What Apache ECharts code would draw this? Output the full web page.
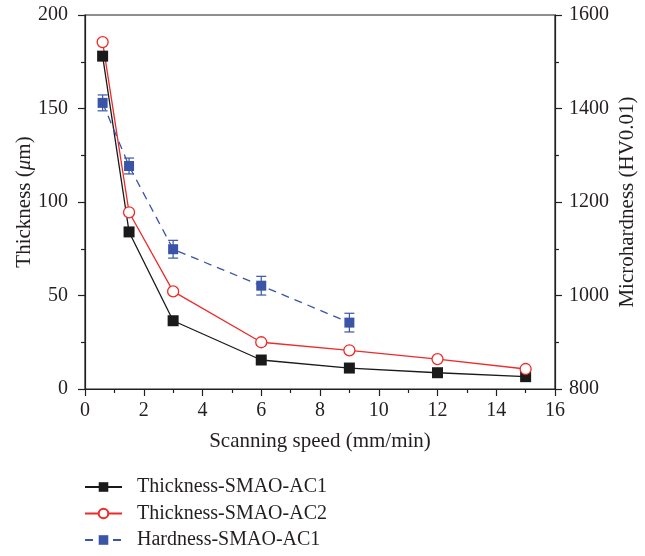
<!DOCTYPE html>
<html>
<head>
<meta charset="utf-8">
<script src="https://cdn.jsdelivr.net/npm/echarts@6/dist/echarts.min.js"></script>
<style>
  html, body { margin: 0; padding: 0; background: #fff; }
  #chart { width: 645px; height: 556px; }
</style>
</head>
<body>
<div id="chart"></div>
<script>
// scanning speed (mm/min)
var speed = [0.6, 1.5, 3, 6, 9, 12, 15];
var thicknessAC1 = [178, 84, 36.5, 15.5, 11.2, 8.7, 6.6];
var thicknessAC2 = [185.5, 94.5, 52.2, 25, 20.7, 16, 10.7];
// hardness only measured up to 9 mm/min
var hardSpeed = [0.6, 1.5, 3, 6, 9];
var hardnessAC1 = [1412, 1277, 1099, 1021, 942];
var hardnessErr = [17, 17, 19, 20, 20];

var font = '"Liberation Serif", "DejaVu Serif", serif';
var ink = '#231f20';

var chart = echarts.init(document.getElementById('chart'));

function pairs(xs, ys) {
    return xs.map(function (x, i) { return [x, ys[i]]; });
}

var errData = hardSpeed.map(function (x, i) {
    return [x, hardnessAC1[i] - hardnessErr[i], hardnessAC1[i] + hardnessErr[i]];
});

function axisBase() {
    return {
        axisLine: { show: true, lineStyle: { color: ink, width: 1.2 } },
        axisTick: { show: true, inside: false, length: 7, lineStyle: { color: ink, width: 1.2 } },
        minorTick: { show: true, splitNumber: 2, length: 4, lineStyle: { color: ink, width: 1.2 } },
        splitLine: { show: false },
        nameMoveOverlap: false,
        axisLabel: { color: ink, fontFamily: font, fontSize: 20, formatter: function (v) { return String(v); } }
    };
}

var xAxis = Object.assign(axisBase(), {
    type: 'value', min: 0, max: 16, interval: 2,
    name: 'Scanning speed (mm/min)', nameLocation: 'middle', nameGap: 42,
    nameTextStyle: { color: ink, fontFamily: font, fontSize: 21 }
});
xAxis.axisLabel.margin = 12;

var yLeft = Object.assign(axisBase(), {
    type: 'value', min: 0, max: 200, interval: 50, position: 'left',
    name: 'Thickness ({i|μ}m)', nameLocation: 'middle', nameGap: 50, nameRotate: 90,
    nameTextStyle: {
        color: ink, fontFamily: font, fontSize: 21,
        rich: { i: { fontStyle: 'italic', fontFamily: font, fontSize: 21, color: ink } }
    }
});
yLeft.axisLabel.margin = 17;

var yRight = Object.assign(axisBase(), {
    type: 'value', min: 800, max: 1600, interval: 200, position: 'right',
    name: 'Microhardness (HV0.01)', nameLocation: 'middle', nameGap: 62, nameRotate: 90,
    nameTextStyle: { color: ink, fontFamily: font, fontSize: 21 }
});
yRight.axisLabel.margin = 14;

var option = {
    animation: false,
    backgroundColor: '#fff',
    grid: {
        left: 85, right: 90, top: 15, bottom: 167,
        outerBoundsMode: 'none', containLabel: false,
        show: true, borderColor: ink, borderWidth: 1.2, backgroundColor: 'transparent'
    },
    legend: {
        data: ['Thickness-SMAO-AC1', 'Thickness-SMAO-AC2', 'Hardness-SMAO-AC1'],
        orient: 'vertical', left: 84, top: 477, height: 80,
        itemWidth: 37, itemHeight: 12, itemGap: 6.5, padding: 0,
        textStyle: { color: ink, fontFamily: font, fontSize: 20, padding: [0, 0, 0, 10] }
    },
    xAxis: xAxis,
    yAxis: [yLeft, yRight],
    series: [
        {
            name: 'Thickness-SMAO-AC1', type: 'line', yAxisIndex: 0,
            data: pairs(speed, thicknessAC1),
            symbol: 'rect', symbolSize: 11,
            lineStyle: { color: '#1a1a1a', width: 1.3 },
            itemStyle: { color: '#1a1a1a', borderWidth: 0 }
        },
        {
            name: 'Thickness-SMAO-AC2', type: 'line', yAxisIndex: 0,
            data: pairs(speed, thicknessAC2),
            symbol: 'circle', symbolSize: 11,
            lineStyle: { color: '#ee2a2a', width: 1.3 },
            itemStyle: { color: '#fff', borderColor: '#ee2a2a', borderWidth: 1.3 }
        },
        {
            name: 'Hardness-SMAO-AC1', type: 'line', yAxisIndex: 1,
            data: pairs(hardSpeed, hardnessAC1),
            symbol: 'rect', symbolSize: 10, z: 3,
            lineStyle: { color: '#3a55a8', width: 1.3, type: [8, 6] },
            itemStyle: { color: '#3a55a8', borderWidth: 0 }
        },
        {
            name: 'err', type: 'custom', yAxisIndex: 1, z: 2,
            data: errData,
            renderItem: function (params, api) {
                var x = api.value(0);
                var lo = api.coord([x, api.value(1)]);
                var hi = api.coord([x, api.value(2)]);
                var w = 5;
                var st = { stroke: '#3a55a8', lineWidth: 1.2 };
                return {
                    type: 'group',
                    children: [
                        { type: 'line', shape: { x1: lo[0], y1: lo[1], x2: hi[0], y2: hi[1] }, style: st },
                        { type: 'line', shape: { x1: lo[0] - w, y1: lo[1], x2: lo[0] + w, y2: lo[1] }, style: st },
                        { type: 'line', shape: { x1: hi[0] - w, y1: hi[1], x2: hi[0] + w, y2: hi[1] }, style: st }
                    ]
                };
            }
        }
    ]
};

chart.setOption(option);
</script>
</body>
</html>
